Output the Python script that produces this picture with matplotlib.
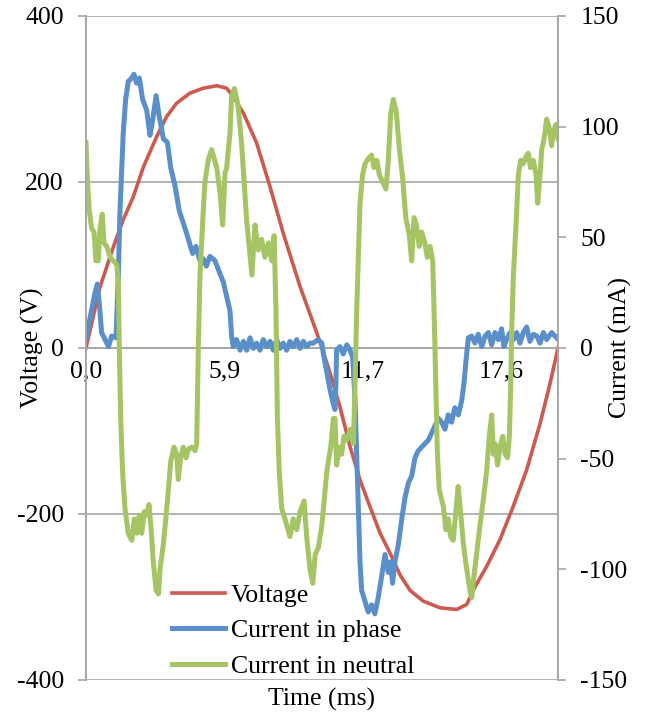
import matplotlib
matplotlib.use('Agg')
import matplotlib.pyplot as plt

plt.rcParams['font.family'] = ['Liberation Serif', 'DejaVu Serif']
plt.rcParams['font.size'] = 18.5
plt.rcParams['axes.unicode_minus'] = False

# voltage (V) vs time (ms)
volt_t = [0.0, 0.59, 1.16, 1.57, 2.0, 2.43, 3.0, 3.42, 3.84, 4.4, 4.97, 5.54, 5.96,
          6.24, 6.67, 7.23, 7.8, 8.36, 9.07, 9.63, 10.0, 10.34, 10.76, 11.19, 11.61,
          12.03, 12.46, 12.95, 13.3, 13.73, 14.29, 15.0, 15.71, 16.13, 16.48, 16.98,
          17.54, 18.1, 18.67, 19.24, 19.66, 20.0]
volt_v = [0, 73, 122, 154, 182, 218, 255, 279, 295, 307, 313, 316, 313,
          303, 283, 247, 194, 138, 74, 30, 0, -30, -71, -119, -159,
          -191, -223, -251, -273, -292, -305, -313, -315, -309, -288, -263,
          -231, -191, -147, -91, -43, 0]

# current in phase (mA)
phase_t = [0.03, 0.17, 0.38, 0.48, 0.59, 0.66, 0.81, 0.95, 1.09, 1.27, 1.37, 1.44,
           1.58, 1.68, 1.79, 1.94, 2.03, 2.15, 2.26, 2.40, 2.57, 2.71, 2.82, 2.97,
           3.11, 3.28, 3.45, 3.59, 3.77, 3.95, 4.15, 4.34, 4.52, 4.66, 4.83, 4.97,
           5.1, 5.25, 5.46, 5.61, 5.82, 5.96, 6.10, 6.17, 6.24, 6.38, 6.53, 6.67,
           6.81, 6.95, 7.09, 7.23, 7.37, 7.51, 7.66, 7.80, 7.94, 8.08, 8.22, 8.36,
           8.50, 8.64, 8.79, 8.93, 9.07, 9.21, 9.35, 9.49, 9.63, 9.84, 9.99, 10.06,
           10.2, 10.34, 10.48, 10.55, 10.59, 10.62, 10.76, 10.9, 11.05, 11.19, 11.30,
           11.40, 11.47, 11.54, 11.61, 11.68, 11.82, 11.96, 12.1, 12.24, 12.38, 12.53,
           12.67, 12.81, 12.91, 12.99, 13.09, 13.24, 13.38, 13.52, 13.66, 13.80, 13.94,
           14.08, 14.22, 14.36, 14.51, 14.65, 14.79, 14.93, 15.07, 15.21, 15.35, 15.49,
           15.63, 15.78, 15.92, 16.02, 16.1, 16.2, 16.34, 16.48, 16.62, 16.77, 16.91,
           17.05, 17.19, 17.33, 17.47, 17.61, 17.71, 17.82, 17.97, 18.11, 18.25, 18.39,
           18.53, 18.67, 18.81, 18.96, 19.10, 19.24, 19.38, 19.52, 19.73, 19.94]
phase_i = [5.4, 13.5, 24.9, 28.9, 16.8, 7.0, 3.8, 0.6, 5.4, 4.6, 33, 62,
           97.7, 112.3, 120.4, 122, 123.7, 119.6, 122, 112.3, 107.5, 96.1, 102.6, 114,
           104.2, 94.5, 92.9, 81.5, 73.4, 62.1, 55.6, 49.1, 42.7, 45.9, 39.4, 40.3,
           37, 41.4, 39.5, 35.4, 29.7, 23.2, 16.8, 5.4, 0.6, 3.8, -1, 3,
           -1, 4.6, -0.2, 2.2, -1, 3.8, 0.6, 3, -1, 3.8, -0.2, 2.2,
           -1, 3, 0.6, 3.8, -0.2, 3, 0.6, 2.2, 2.2, 3.8, 2.2, -2.7,
           -10.8, -18.8, -25.3, -27.8, -15.6, -1, 0.6, -2.7, 1.4, -1, -4.3,
           -23.7, -48, -72.3, -96.6, -109.5, -114.4, -119.3, -116, -120.1, -112.8, -103,
           -93.3, -101.4, -96.6, -106.3, -96.6, -88.5, -77.2, -67.4, -61, -57.8, -49.6,
           -46.4, -44.8, -43.2, -41.6, -38.3, -35.1, -31.8, -33.5, -36.7, -30.2, -33.5,
           -27, -30.2, -23.7, -15.6, -5.9, 4.6, 5.4, 2.2, 6.2, 0.6, 5.4,
           7, 1.4, 7, 3.8, 8.7, 0.6, 3.8, 7, 3.8, 7, 2.2,
           7, 9.5, 3, 6.2, 5.4, 2.2, 7, 3.8, 7, 4.6]

# current in neutral (mA)
neutral_t = [0.0, 0.06, 0.14, 0.24, 0.34, 0.42, 0.52, 0.59, 0.69, 0.76, 0.88, 1.02,
             1.16, 1.3, 1.37, 1.41, 1.47, 1.55, 1.65, 1.79, 1.94, 2.05, 2.15, 2.26,
             2.36, 2.47, 2.57, 2.67, 2.75, 2.85, 2.97, 3.07, 3.14, 3.28, 3.45, 3.59,
             3.73, 3.84, 3.91, 4.01, 4.12, 4.24, 4.34, 4.48, 4.62, 4.69, 4.76, 4.83,
             4.97, 5.04, 5.18, 5.32, 5.54, 5.68, 5.79, 5.89, 5.96, 6.1, 6.17, 6.29,
             6.45, 6.6, 6.81, 7.03, 7.16, 7.3, 7.44, 7.58, 7.73, 7.87, 7.97, 8.05,
             8.11, 8.19, 8.29, 8.47, 8.64, 8.78, 8.93, 9.07, 9.24, 9.35, 9.49, 9.61,
             9.71, 9.85, 9.99, 10.1, 10.2, 10.27, 10.37, 10.48, 10.55, 10.62, 10.73,
             10.83, 10.93, 11.05, 11.19, 11.33, 11.40, 11.47, 11.54, 11.61, 11.72, 11.82,
             11.96, 12.1, 12.2, 12.32, 12.43, 12.57, 12.71, 12.81, 12.91, 13.02, 13.14,
             13.28, 13.42, 13.55, 13.70, 13.8, 13.9, 14.0, 14.12, 14.22, 14.36, 14.46,
             14.58, 14.69, 14.75, 14.82, 14.89, 14.97, 15.14, 15.25, 15.35, 15.45, 15.56,
             15.67, 15.77, 15.87, 15.99, 16.13, 16.27, 16.34, 16.44, 16.55, 16.69, 16.83,
             16.97, 17.09, 17.19, 17.26, 17.33, 17.44, 17.54, 17.66, 17.76, 17.86, 17.94,
             18.0, 18.04, 18.11, 18.23, 18.32, 18.42, 18.53, 18.64, 18.74, 18.83, 18.95,
             19.07, 19.14, 19.24, 19.31, 19.41, 19.52, 19.63, 19.73, 19.80, 19.92, 20.0]
neutral_i = [92.9, 75, 62.1, 54, 52.4, 39.4, 39.4, 54, 60.5, 47.5, 45.9, 41,
             39.4, 37.8, 29.7, 0.6, -31.8, -56.1, -72.3, -83.7, -86.9, -77.2, -83.7, -75.5,
             -83.7, -73.9, -75.5, -70.7, -80.4, -96.6, -109.5, -111.1, -99.8, -88.5, -69.1, -51.2,
             -44.8, -48, -59.4, -49.6, -44.8, -49.6, -45.6, -44.8, -46.4, -43.2, 0.6, 33,
             62, 75, 85, 89.6, 81.5, 70, 55.6, 79, 81.5, 97, 113.9, 117.2,
             109.1, 91.3, 57.3, 33, 55.6, 44.3, 49.1, 41, 47.5, 39.4, 50.8, 16.8,
             -31.8, -56.1, -72.3, -78.7, -85.2, -77.2, -82.1, -73.9, -69.1, -85.2, -99.8, -106.3,
             -93.3, -90.1, -80.4, -68, -56.1, -51.2, -44.8, -31.8, -31.8, -52.9, -44.8,
             -48, -39.9, -41.6, -36.7, -43.2, -15.6, 16.8, 41, 65.4, 78.3, 83.2,
             85.6, 87.2, 81.5, 84.8, 78.3, 75, 71.8, 84.8, 105.8, 112.3, 107.5,
             89.6, 76.7, 58.9, 50.8, 39.4, 58.9, 55.6, 45.9, 52.4, 47.5, 41,
             45.9, 39.4, 16.8, -15.6, -48, -64.2, -71.5, -82.1, -77.2, -85.2, -86.9,
             -73.9, -62.6, -73.9, -88.5, -99.8, -109.5, -112.8, -103, -93.3, -80.4, -69.1,
             -56.1, -39.9, -30.2, -48, -43.2, -52.9, -44.8, -39.9, -48, -49.6, -39.9,
             -15.6, 8.7, 33, 57.3, 78.3, 84.8, 83.2, 86.4, 88, 81.5, 84.8,
             78.3, 65.4, 78.3, 89.6, 94.5, 103.4, 99.3, 91.3, 97.7, 101, 94.5]

xtick_pos = [0.0, 5.867, 11.733, 17.6]
xtick_lab = ['0,0', '5,9', '11,7', '17,6']

grey = '#a6a6a6'

fig = plt.figure(figsize=(6.49, 7.24), dpi=100)
fig.subplots_adjust(left=86/649, right=558/649, top=1-16/724, bottom=1-680/724)
ax = fig.add_subplot(111)
ax2 = ax.twinx()

l1, = ax.plot(volt_t, volt_v, color='#cd5a50', lw=2.6, label='Voltage')
l2, = ax2.plot(phase_t, phase_i, color='#5a8fc9', lw=3.6, label='Current in phase',
               solid_joinstyle='round')
l3, = ax2.plot(neutral_t, neutral_i, color='#a5c464', lw=3.6, label='Current in neutral',
               solid_joinstyle='round')

ax.set_xlim(0, 20)
ax.set_ylim(-400, 400)
ax2.set_ylim(-150, 150)
ax.set_yticks([-400, -200, 0, 200, 400])
ax2.set_yticks([-150, -100, -50, 0, 50, 100, 150])
ax.set_xticks(xtick_pos)
ax.set_xticklabels(xtick_lab)

ax.grid(axis='y', color=grey, lw=1.2)
ax.set_axisbelow(True)

for a in (ax, ax2):
    for s in a.spines.values():
        s.set_color(grey)
        s.set_linewidth(1.2)
    a.spines['top'].set_visible(False)
ax.spines['bottom'].set_position(('data', 0))
ax2.spines['bottom'].set_visible(False)

ax.tick_params(axis='x', length=0, pad=9)
ax.tick_params(axis='y', length=6, width=1.2, color=grey, pad=10)
ax2.tick_params(axis='y', length=6, width=1.2, color=grey, pad=10)

ax.set_xlabel('Time (ms)')
ax.xaxis.set_label_coords(0.5, -0.012)
ax.set_ylabel('Voltage (V)')
ax.yaxis.set_label_coords(-0.088, 0.5)
ax2.set_ylabel('Current (mA)')
ax2.yaxis.set_label_coords(1.108, 0.5)

ax2.legend(handles=[l1, l2, l3], loc='upper left', frameon=False,
           bbox_to_anchor=(172/649, 1-584/724), bbox_transform=fig.transFigure,
           borderaxespad=0, borderpad=0, handlelength=2.05, handletextpad=0.25,
           labelspacing=0.48)

fig.savefig('out.png', dpi=100)
